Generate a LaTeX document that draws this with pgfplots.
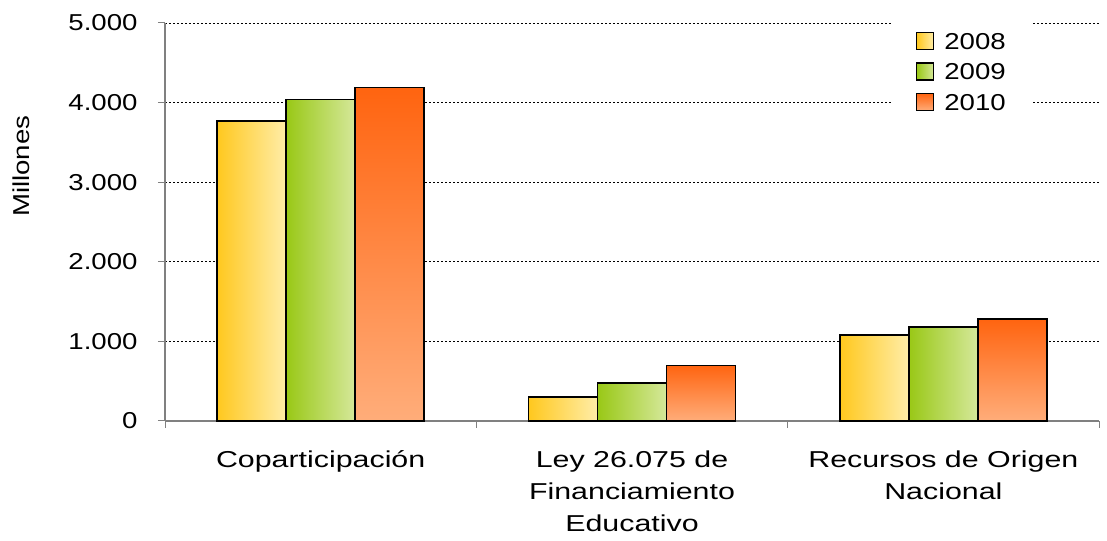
\documentclass[border=0pt]{standalone}
\usepackage{fontspec}
\setmainfont[FakeStretch=1.2]{Liberation Sans}
\newfontfamily\catfont[FakeStretch=1.32]{Liberation Sans}
\usepackage{pgfplots}
\pgfplotsset{compat=1.18}
\definecolor{y1}{HTML}{FFC81E}
\definecolor{y2}{HTML}{FFEDA8}
\definecolor{g1}{HTML}{99C816}
\definecolor{g2}{HTML}{D5E89A}
\definecolor{o1}{HTML}{FF6410}
\definecolor{o2}{HTML}{FFAD7A}
\newcommand{\chartfont}{\fontsize{23bp}{31bp}\selectfont}
\pgfplotsset{
  barA/.style={draw=black, line width=1.5bp, left color=y1, right color=y2},
  barB/.style={draw=black, line width=1.5bp, left color=g1, right color=g2},
  barC/.style={draw=black, line width=1.5bp, top color=o1, bottom color=o2},
}
\begin{document}
\begin{tikzpicture}[x=1bp,y=1bp]
\useasboundingbox (0,0) rectangle (1107,541);
\begin{axis}[
  at={(165bp,120bp)}, anchor=south west,
  scale only axis, width=934bp, height=398bp,
  ymin=0, ymax=5000, xmin=-0.5, xmax=2.5,
  ybar=0pt, bar width=69bp,
  ytick={0,1000,2000,3000,4000,5000},
  xtick={-0.5,0.5,1.5,2.5},
  xticklabels={},
  extra x ticks={0,1,2},
  extra x tick labels={Coparticipación,{Ley 26.075 de\\Financiamiento\\Educativo},{Recursos de Origen\\Nacional}},
  extra x tick style={major tick length=0bp, grid=none,
    xticklabel style={font=\catfont\fontsize{23bp}{32bp}\selectfont, align=center, yshift=-26bp}},
  tick align=outside, major tick length=7bp,
  tick style={gray, line width=1bp},
  ymajorgrids, grid style={black, dash pattern=on 2bp off 2bp, line width=0.6bp},
  axis x line*=bottom, axis y line*=left,
  axis line style={gray, line width=1.2bp},
  /pgf/number format/.cd, 1000 sep={.}, assume math mode=true, /pgfplots/.cd,
  tick label style={font=\chartfont},
  yticklabel style={xshift=-17bp},
  ylabel={Millones},
  ylabel style={font=\chartfont, at={(axis description cs:-0.154,0.64)}, anchor=center},
  legend style={at={(axis description cs:0.7794,1.005)}, anchor=north west, draw=none, fill=white,
    font=\chartfont, row sep=9bp, inner xsep=23bp, inner ysep=10bp, nodes={inner sep=2bp},
    /tikz/every odd column/.append style={column sep=8bp}},
  legend cell align=left,
  legend image code/.code={\draw[#1, line width=1.2bp] (0bp,-7.5bp) rectangle (17bp,9.5bp);},
  enlargelimits=false, clip=false,
]
\addlegendimage{barA}\addlegendentry{2008}
\addlegendimage{barB}\addlegendentry{2009}
\addlegendimage{barC}\addlegendentry{2010}
\addplot[barA, bar shift=-69bp, forget plot] coordinates {(0,3770)};
\addplot[barA, bar shift=-69bp, forget plot] coordinates {(1,300)};
\addplot[barA, bar shift=-69bp, forget plot] coordinates {(2,1080)};
\addplot[barB, bar shift=0bp, forget plot] coordinates {(0,4040)};
\addplot[barB, bar shift=0bp, forget plot] coordinates {(1,475)};
\addplot[barB, bar shift=0bp, forget plot] coordinates {(2,1180)};
\addplot[barC, bar shift=69bp, forget plot] coordinates {(0,4190)};
\addplot[barC, bar shift=69bp, forget plot] coordinates {(1,700)};
\addplot[barC, bar shift=69bp, forget plot] coordinates {(2,1280)};
\end{axis}
\end{tikzpicture}
\end{document}
